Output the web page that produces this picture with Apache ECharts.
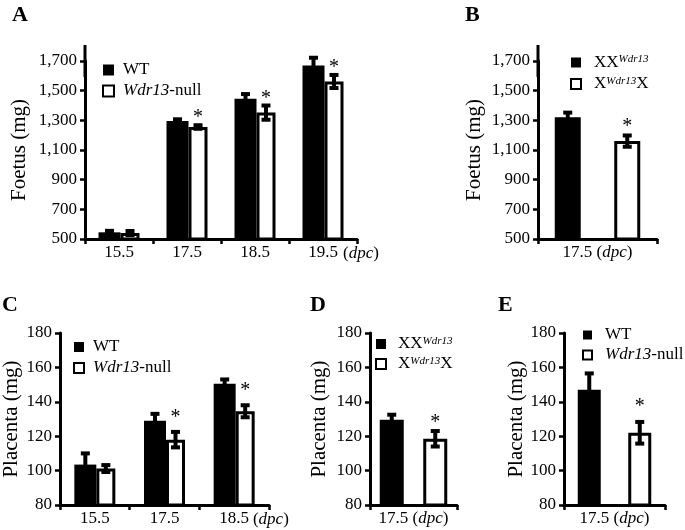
<!DOCTYPE html>
<html><head><meta charset="utf-8">
<script src="https://cdn.jsdelivr.net/npm/echarts@6/dist/echarts.min.js"></script>
<style>html,body{margin:0;padding:0;background:#fff}#c{width:685px;height:530px}</style>
</head><body><div id="c"></div>
<script>
// ---------- data ----------
const foetusDays = ['15.5', '17.5', '18.5', '19.5'];
const foetusWT = [545, 1295, 1445, 1670];
const foetusWTSem = [10, 12, 32, 52];
const foetusNull = [540, 1255, 1352, 1562];
const foetusNullSem = [14, 12, 48, 44];
const foetusNullSig = [0, 1, 1, 1];

const chimeraGroups = ['XXWdr13', 'XWdr13X'];
const foetusChimera = [1320, 1160];
const foetusChimeraSem = [32, 38];
const foetusChimeraSig = [0, 1];

const placentaDays = ['15.5', '17.5', '18.5'];
const placentaWT = [103.5, 129, 150.5];
const placentaWTSem = [6.5, 4, 2.5];
const placentaNull = [101.2, 118, 134.5];
const placentaNullSem = [2, 4.5, 3.5];
const placentaNullSig = [0, 1, 1];

const placentaChimera = [129.5, 118.5];
const placentaChimeraSem = [3, 4.5];
const placentaChimeraSig = [0, 1];

const genotypeGroups = ['WT', 'Wdr13-null'];
const placentaKO = [147, 122];
const placentaKOSem = [9.5, 6.3];
const placentaKOSig = [0, 1];

const foetusTicks = [500, 700, 900, 1100, 1300, 1500, 1700];
const placentaTicks = [80, 100, 120, 140, 160, 180];
const panelLetters = ['A', 'B', 'C', 'D', 'E'];
const foetusTitle = 'Foetus (mg)';
const placentaTitle = 'Placenta (mg)';

// ---------- helpers ----------
const FONT = '"Liberation Serif", "Times New Roman", Times, serif';
const fmtNum = v => v >= 1000 ? Math.floor(v / 1000) + ',' + String(v % 1000).padStart(3, '0') : String(v);

const legendRich = {
  i: { fontStyle: 'italic', fontSize: 17, fontFamily: FONT, color: '#000', lineHeight: 17 },
  s: { fontStyle: 'italic', fontSize: 11, fontFamily: FONT, color: '#000', lineHeight: 8, verticalAlign: 'top' }
};
const legendLabel = {
  'WT': 'WT', 'Wdr13-null': '{i|Wdr13}-null',
  'XXWdr13': 'XX{s|Wdr13}', 'XWdr13X': 'X{s|Wdr13}X'
};

function yAx(grid, ticks, title, gap, extend) {
  return {
    type: 'value', gridIndex: grid,
    min: ticks[0], max: ticks[ticks.length - 1], interval: ticks[1] - ticks[0],
    name: title, nameLocation: 'middle', nameGap: gap, nameRotate: 90,
    nameTextStyle: { fontSize: 21, fontFamily: FONT, color: '#000' },
    axisLine: { show: true, lineStyle: { color: '#000', width: 3 },
      symbol: extend ? ['none', 'rect'] : ['none', 'none'], symbolSize: [3, 32] },
    axisTick: { show: true, length: 5, lineStyle: { color: '#000', width: 2.5 } },
    axisLabel: { fontSize: 17, fontFamily: FONT, color: '#000', margin: 8, formatter: fmtNum },
    splitLine: { show: false }
  };
}
function xAx(grid, cats, opts) {
  return Object.assign({
    type: 'category', gridIndex: grid, data: cats,
    axisLine: { onZero: false, lineStyle: { color: '#000', width: 3 } },
    axisTick: { show: true, length: 5, lineStyle: { color: '#000', width: 2.5 } },
    axisLabel: { show: true, interval: 0, fontSize: 17, fontFamily: FONT, color: '#000', margin: 5, lineHeight: 17 },
    nameTextStyle: { fontSize: 17, fontFamily: FONT, color: '#000', lineHeight: 17,
      rich: { i: { fontStyle: 'italic', fontSize: 17, fontFamily: FONT, color: '#000', lineHeight: 17 } } },
    splitLine: { show: false }
  }, opts);
}
function errorBars(leftOff, rightOff, starGap) {
  return function (params, api) {
    const cat = api.value(0), val = api.value(1), sem = api.value(2), sig = api.value(3), side = api.value(4);
    const p1 = api.coord([cat, val + sem]);
    const p2 = api.coord([cat, val - sem]);
    const x = p1[0] + (side < 0 ? leftOff : side > 0 ? rightOff : 0);
    const cap = 4.5;
    const st = { stroke: '#000', lineWidth: 4 };
    const children = [
      { type: 'line', shape: { x1: x, y1: p1[1], x2: x, y2: p2[1] }, style: st },
      { type: 'line', shape: { x1: x - cap, y1: p1[1], x2: x + cap, y2: p1[1] }, style: st },
      { type: 'line', shape: { x1: x - cap, y1: p2[1], x2: x + cap, y2: p2[1] }, style: st }
    ];
    if (sig) children.push({ type: 'text', style: { text: '*', x: x, y: p1[1] - starGap,
      align: 'center', verticalAlign: 'middle', fontSize: 20, fontFamily: FONT, fill: '#000' } });
    return { type: 'group', children };
  };
}
function errData(vals, sems, sigs, side) {
  return vals.map((v, i) => [i, v, sems[i], sigs ? sigs[i] : 0, side]);
}
function legend(left, top, names, size, gap, pad) {
  return {
    orient: 'vertical', left: left, top: top, itemWidth: size, itemHeight: size, itemGap: gap,
    icon: 'rect', selectedMode: false, padding: 0,
    data: names.map((n, k) => ({ name: n, itemStyle: k === 0
      ? { color: '#000', borderWidth: 0 }
      : { color: '#fff', borderColor: '#000', borderWidth: 2 } })),
    formatter: n => legendLabel[n],
    textStyle: { fontSize: 17, fontFamily: FONT, color: '#000', lineHeight: 17, padding: [0, 0, 0, pad], rich: legendRich }
  };
}
const blackBar = { color: '#000' };
const whiteBar = { color: '#fff', borderColor: '#000', borderWidth: 3 };

const option = {
  backgroundColor: '#fff',
  animation: false,
  title: panelLetters.map((t, i) => ({
    text: t, left: [12, 465, 2, 310, 498][i], top: [4, 4, 294, 294, 294][i], padding: 0,
    textStyle: { fontSize: 22, fontWeight: 'bold', fontFamily: FONT, color: '#000' }
  })),
  grid: [
    { left: 85, top: 61, width: 272, height: 178, outerBoundsMode: 'none' },
    { left: 538, top: 61, width: 119, height: 178, outerBoundsMode: 'none' },
    { left: 60, top: 333, width: 209, height: 172, outerBoundsMode: 'none' },
    { left: 370, top: 333, width: 87, height: 172, outerBoundsMode: 'none' },
    { left: 564, top: 333, width: 101, height: 172, outerBoundsMode: 'none' }
  ],
  xAxis: [
    xAx(0, foetusDays, { name: '({i|dpc})', nameLocation: 'end', nameGap: -14,
      nameTextStyle: { fontSize: 17, fontFamily: FONT, color: '#000', verticalAlign: 'top', lineHeight: 30,
        rich: { i: { fontStyle: 'italic', fontSize: 17, fontFamily: FONT, color: '#000', lineHeight: 30 } } } }),
    xAx(1, chimeraGroups, { axisLabel: { show: false }, name: '17.5 ({i|dpc})', nameLocation: 'middle', nameGap: 5 }),
    xAx(2, placentaDays, { name: '({i|dpc})', nameLocation: 'end', nameGap: -19,
      nameTextStyle: { fontSize: 17, fontFamily: FONT, color: '#000', verticalAlign: 'top', lineHeight: 30,
        rich: { i: { fontStyle: 'italic', fontSize: 17, fontFamily: FONT, color: '#000', lineHeight: 30 } } } }),
    xAx(3, chimeraGroups, { axisLabel: { show: false }, name: '17.5 ({i|dpc})', nameLocation: 'middle', nameGap: 5 }),
    xAx(4, genotypeGroups, { axisLabel: { show: false }, name: '17.5 ({i|dpc})', nameLocation: 'middle', nameGap: 5 })
  ],
  yAxis: [
    yAx(0, foetusTicks, foetusTitle, 55, true),
    yAx(1, foetusTicks, foetusTitle, 53, true),
    yAx(2, placentaTicks, placentaTitle, 38, false),
    yAx(3, placentaTicks, placentaTitle, 40, false),
    yAx(4, placentaTicks, placentaTitle, 36, false)
  ],
  legend: [
    legend(102, 61.5, ['WT', 'Wdr13-null'], 11, 4, 4),
    legend(570, 54, ['XXWdr13', 'XWdr13X'], 10, 4.5, 8),
    legend(73, 338.5, ['WT', 'Wdr13-null'], 10, 4, 4),
    legend(375, 335.5, ['XXWdr13', 'XWdr13X'], 10, 3, 7),
    legend(582, 326.5, ['WT', 'Wdr13-null'], 9, 3, 8)
  ],
  series: [
    // A
    { type: 'bar', name: 'WT', xAxisIndex: 0, yAxisIndex: 0, data: foetusWT, barWidth: 22, barGap: '0%', itemStyle: blackBar },
    { type: 'bar', name: 'Wdr13-null', xAxisIndex: 0, yAxisIndex: 0, data: foetusNull, barWidth: 19, barGap: '0%', itemStyle: whiteBar },
    { type: 'custom', xAxisIndex: 0, yAxisIndex: 0, z: 5, clip: false, renderItem: errorBars(-9.5, 11, 7),
      data: errData(foetusWT, foetusWTSem, null, -1).concat(errData(foetusNull, foetusNullSem, foetusNullSig, 1)) },
    // B
    { type: 'bar', name: 'XXWdr13', xAxisIndex: 1, yAxisIndex: 1, data: [foetusChimera[0], '-'], barWidth: 26, barGap: '-100%', itemStyle: blackBar },
    { type: 'bar', name: 'XWdr13X', xAxisIndex: 1, yAxisIndex: 1, data: ['-', foetusChimera[1]], barWidth: 26, barGap: '-100%', itemStyle: whiteBar },
    { type: 'custom', xAxisIndex: 1, yAxisIndex: 1, z: 5, clip: false, renderItem: errorBars(0, 0, 9),
      data: errData(foetusChimera, foetusChimeraSem, foetusChimeraSig, 0) },
    // C
    { type: 'bar', name: 'WT', xAxisIndex: 2, yAxisIndex: 2, data: placentaWT, barWidth: 22, barGap: '0%', itemStyle: blackBar },
    { type: 'bar', name: 'Wdr13-null', xAxisIndex: 2, yAxisIndex: 2, data: placentaNull, barWidth: 19, barGap: '0%', itemStyle: whiteBar },
    { type: 'custom', xAxisIndex: 2, yAxisIndex: 2, z: 5, clip: false, renderItem: errorBars(-9.5, 11, 14),
      data: errData(placentaWT, placentaWTSem, null, -1).concat(errData(placentaNull, placentaNullSem, placentaNullSig, 1)) },
    // D
    { type: 'bar', name: 'XXWdr13', xAxisIndex: 3, yAxisIndex: 3, data: [placentaChimera[0], '-'], barWidth: 24, barGap: '-100%', itemStyle: blackBar },
    { type: 'bar', name: 'XWdr13X', xAxisIndex: 3, yAxisIndex: 3, data: ['-', placentaChimera[1]], barWidth: 24, barGap: '-100%', itemStyle: whiteBar },
    { type: 'custom', xAxisIndex: 3, yAxisIndex: 3, z: 5, clip: false, renderItem: errorBars(0, 0, 8.5),
      data: errData(placentaChimera, placentaChimeraSem, placentaChimeraSig, 0) },
    // E
    { type: 'bar', name: 'WT', xAxisIndex: 4, yAxisIndex: 4, data: [placentaKO[0], '-'], barWidth: 23, barGap: '-100%', itemStyle: blackBar },
    { type: 'bar', name: 'Wdr13-null', xAxisIndex: 4, yAxisIndex: 4, data: ['-', placentaKO[1]], barWidth: 23, barGap: '-100%', itemStyle: whiteBar },
    { type: 'custom', xAxisIndex: 4, yAxisIndex: 4, z: 5, clip: false, renderItem: errorBars(0, 0, 15),
      data: errData(placentaKO, placentaKOSem, placentaKOSig, 0) }
  ]
};
const chart = echarts.init(document.getElementById('c'), null, { renderer: 'canvas' });
chart.setOption(option);
</script>
</body></html>
